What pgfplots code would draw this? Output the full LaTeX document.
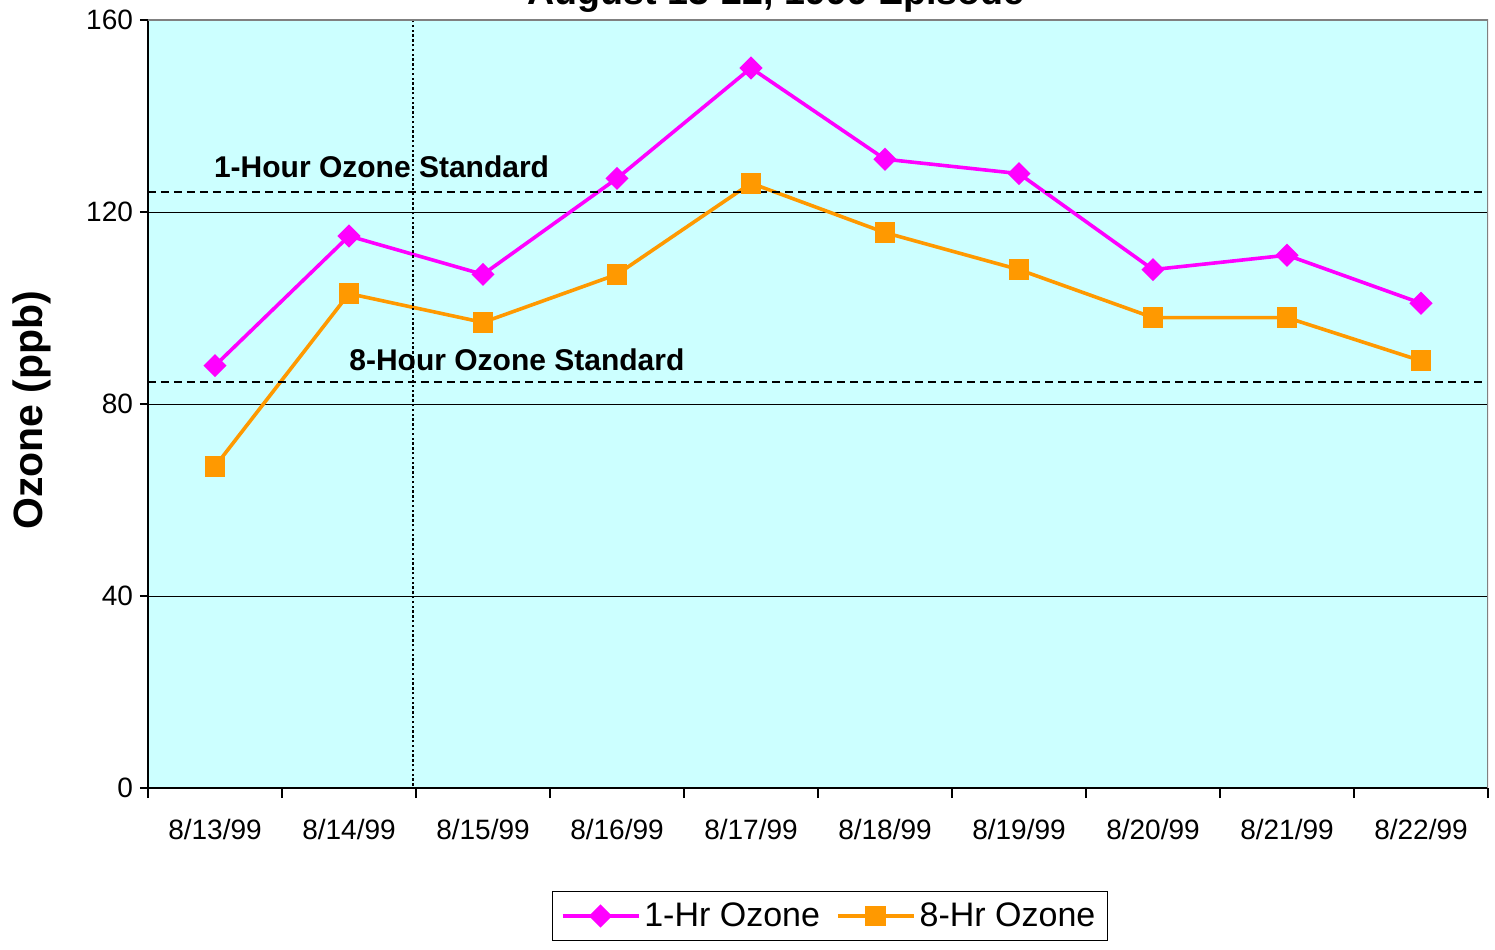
\documentclass[border=0pt]{standalone}
\usepackage{pgfplots}
\pgfplotsset{compat=1.18}
\usepackage{fontspec}
\setmainfont{Liberation Sans}
\definecolor{bgcyan}{RGB}{204,255,255}
\definecolor{magen}{RGB}{255,0,255}
\definecolor{orng}{RGB}{255,153,0}
\begin{document}
\begin{tikzpicture}
\begin{axis}[
  at={(0,0)}, anchor=south west,
  scale only axis, width=670pt, height=384pt,
  xmin=-0.5, xmax=9.5, ymin=0, ymax=160,
  axis lines=left, axis line style={-, black, line width=0.8pt},
  axis background/.style={fill=bgcyan},
  xtick={0,...,9},
  xticklabels={8/13/99,8/14/99,8/15/99,8/16/99,8/17/99,8/18/99,8/19/99,8/20/99,8/21/99,8/22/99},
  minor xtick={-0.5,0.5,...,9.5},
  x tick style={draw=none},
  minor x tick style={draw=black, line width=0.6pt},
  minor tick length=5pt,
  ytick={0,40,80,120,160},
  y tick style={draw=black, line width=0.6pt},
  major tick length=4pt,
  tick align=outside,
  ymajorgrids, grid style={black, line width=0.5pt},
  tick label style={font=\fontsize{14}{16}\selectfont},
  /pgf/number format/assume math mode=true,
  xticklabel style={yshift=-8pt},
  ylabel={\textbf{Ozone (ppb)}},
  ylabel style={font=\fontsize{20.5}{24}\selectfont, at={(axis description cs:-0.0866,0.492)}, anchor=center},
  legend columns=2,
  legend style={at={(axis description cs:0.509,-0.1667)}, anchor=center, draw=black, line width=0.6pt,
    font=\fontsize{17}{20}\selectfont, inner xsep=4pt, inner ysep=3.5pt,
    /tikz/every even column/.append style={column sep=6pt}},
  legend image code/.code={
    \draw[#1, mark repeat=2, mark phase=2] plot coordinates {(0pt,0pt) (19pt,0pt) (38pt,0pt)};},
]
\addplot[magen, line width=1.8pt, mark=square*, mark size=3.2pt, mark options={rotate=45, solid}] coordinates {
(0,88) (1,115) (2,107) (3,127) (4,150) (5,131) (6,128) (7,108) (8,111) (9,101)};
\addlegendentry{1-Hr Ozone}
\addplot[orng, line width=1.8pt, mark=square*, mark size=4.3pt, mark options={solid}] coordinates {
(0,67) (1,103) (2,97) (3,107) (4,126) (5,115.7) (6,108) (7,98) (8,98) (9,89)};
\addlegendentry{8-Hr Ozone}
\draw[black, dashed, line width=1pt, dash pattern=on 4pt off 2.5pt] (axis cs:-0.5,124.2) -- (axis cs:9.5,124.2);
\draw[black, dashed, line width=1pt, dash pattern=on 4pt off 2.5pt] (axis cs:-0.5,84.6) -- (axis cs:9.5,84.6);
\draw[black, line width=1.1pt, dash pattern=on 1.2pt off 1.2pt] (axis cs:1.48,-2.5) -- (axis cs:1.48,160);
\node[anchor=west, inner sep=0pt, font=\bfseries\fontsize{15}{17}\selectfont] at (axis cs:-0.01,129.4) {1-Hour Ozone Standard};
\node[anchor=west, inner sep=0pt, font=\bfseries\fontsize{15}{17}\selectfont] at (axis cs:1.0,89.2) {8-Hour Ozone Standard};
\draw[gray, line width=1.4pt] (rel axis cs:0,1) -- (rel axis cs:1,1) -- (rel axis cs:1,0);
\end{axis}
\node[anchor=base, font=\bfseries\fontsize{18.8}{22}\selectfont] at (314pt,391.5pt) {August 13-22, 1999 Episode};
\pgfresetboundingbox
\useasboundingbox (-74pt,-80.5pt) rectangle (673.5pt,394pt);
\end{tikzpicture}
\end{document}
